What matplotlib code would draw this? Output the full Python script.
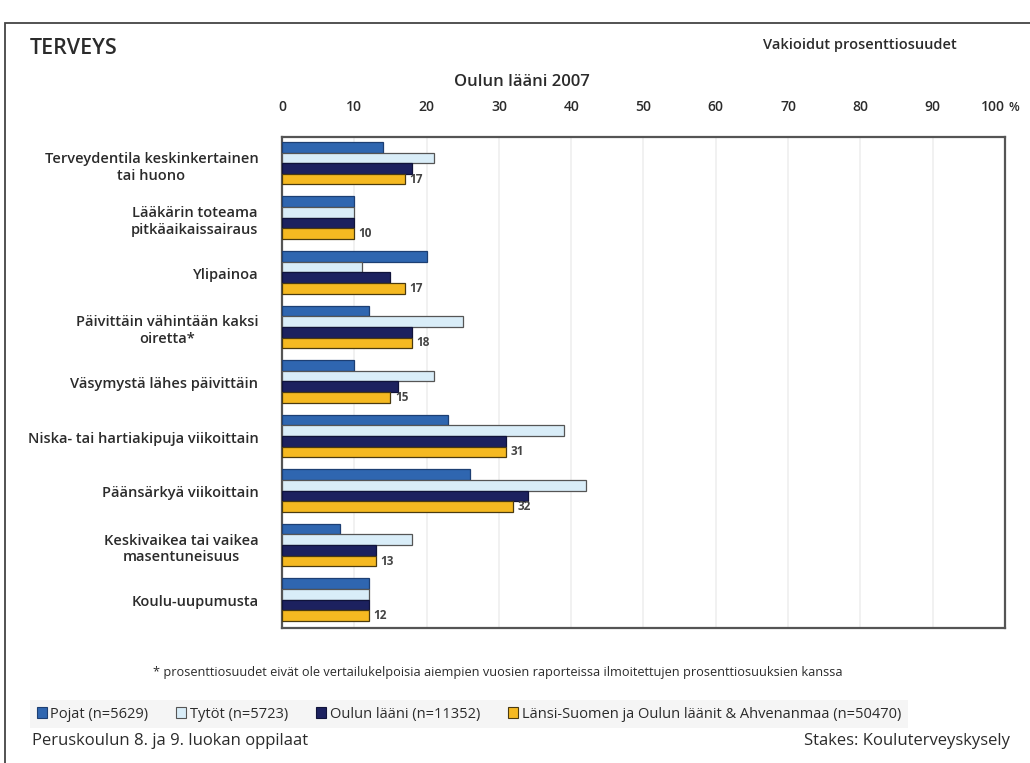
import numpy as np
import matplotlib.pyplot as plt
from matplotlib.patches import Patch, Rectangle

plt.rcParams['font.family'] = ['Open Sans', 'DejaVu Sans']

categories = [
    'Terveydentila keskinkertainen\ntai huono',
    'Lääkärin toteama\npitkäaikaissairaus',
    'Ylipainoa',
    'Päivittäin vähintään kaksi\noiretta*',
    'Väsymystä lähes päivittäin',
    'Niska- tai hartiakipuja viikoittain',
    'Päänsärkyä viikoittain',
    'Keskivaikea tai vaikea\nmasentuneisuus',
    'Koulu-uupumusta',
]
pojat = [14, 10, 20, 12, 10, 23, 26, 8, 12]
tytot = [21, 10, 11, 25, 21, 39, 42, 18, 12]
oulu = [18, 10, 15, 18, 16, 31, 34, 13, 12]
lansi = [17, 10, 17, 18, 15, 31, 32, 13, 12]

series_names = ['Pojat (n=5629)', 'Tytöt (n=5723)', 'Oulun lääni (n=11352)',
                'Länsi-Suomen ja Oulun läänit & Ahvenanmaa (n=50470)']
colors = ['#2f66b0', '#d9edf8', '#1c215f', '#f5b921']
edges = ['#1d3f73', '#555555', '#10133a', '#4a3a10']
xticks = [0, 10, 20, 30, 40, 50, 60, 70, 80, 90, 100]

txt = '#2b2b2b'

fig = plt.figure(figsize=(10.3, 7.63), dpi=100)
ax = fig.add_axes([0.2738, 0.1769, 0.7019, 0.6435])

y = np.arange(len(categories))
h = 0.195
data = [pojat, tytot, oulu, lansi]
for k, vals in enumerate(data):
    ax.barh(y + (k - 1.5) * h - 0.02, vals, height=h, color=colors[k],
            edgecolor=edges[k], linewidth=0.9, zorder=3)

# value labels for the reference area series
for yi, v in zip(y, lansi):
    ax.text(v + 0.6, yi + 1.5 * h - 0.02, str(v), va='center', ha='left',
            fontsize=8.5, fontweight='bold', color='#444444', zorder=4)

ax.set_xlim(0, 100)
ax.set_ylim(len(categories) - 0.5, -0.5)
ax.set_yticks(y)
ax.set_yticklabels(categories, fontsize=10.5, fontweight='semibold', color=txt,
                   multialignment='center', linespacing=1.25)
ax.tick_params(axis='y', length=0, pad=17)
ax.xaxis.tick_top()
ax.set_xticks(xticks)
ax.set_xticklabels([str(t) for t in xticks], fontsize=10, fontweight='semibold', color=txt)
ax.get_xticklabels()[-1].set_ha('right')
ax.tick_params(axis='x', length=0, pad=16.5)
ax.grid(axis='x', color='#efefef', linewidth=1.2, zorder=0)
for s in ax.spines.values():
    s.set_color('#555555')
    s.set_linewidth(1.6)

ax.text(100.5, 1.047, '%', transform=ax.get_xaxis_transform(), fontsize=9,
        fontweight='semibold', color=txt, va='bottom', ha='left')

fig.text(0.507, 0.8925, 'Oulun lääni 2007', ha='center', va='center',
         fontsize=12, fontweight='semibold', color=txt)
fig.text(0.029, 0.936, 'TERVEYS', ha='left', va='center', fontsize=15.5,
         fontweight='semibold', color=txt)
fig.text(0.929, 0.941, 'Vakioidut prosenttiosuudet', ha='right', va='center',
         fontsize=10.5, fontweight='semibold', color=txt)
fig.text(0.483, 0.118,
         '* prosenttiosuudet eivät ole vertailukelpoisia aiempien vuosien raporteissa ilmoitettujen prosenttiosuuksien kanssa',
         ha='center', va='center', fontsize=9.2, color=txt)

handles = [Patch(facecolor=c, edgecolor=e, linewidth=0.8) for c, e in zip(colors, edges)]
leg = fig.legend(handles, series_names, loc='center left', bbox_to_anchor=(0.022, 0.064),
                 ncol=4, fontsize=10.5, frameon=True, handlelength=0.7, handleheight=0.7,
                 handletextpad=0.25, columnspacing=1.9, borderpad=0.45, fancybox=False)
leg.get_frame().set_facecolor('#f3f3f3')
leg.get_frame().set_edgecolor('none')
for t in leg.get_texts():
    t.set_color(txt)

fig.text(0.031, 0.029, 'Peruskoulun 8. ja 9. luokan oppilaat', ha='left', va='center',
         fontsize=12, color=txt)
fig.text(0.981, 0.029, 'Stakes: Kouluterveyskysely', ha='right', va='center',
         fontsize=12, color=txt)

# outer frame line, left and top edges
fig.add_artist(Rectangle((0.005, -0.1), 1.2, 1.07, transform=fig.transFigure,
                         fill=False, edgecolor='#444444', linewidth=1.3))

fig.savefig('out.png', dpi=100)
